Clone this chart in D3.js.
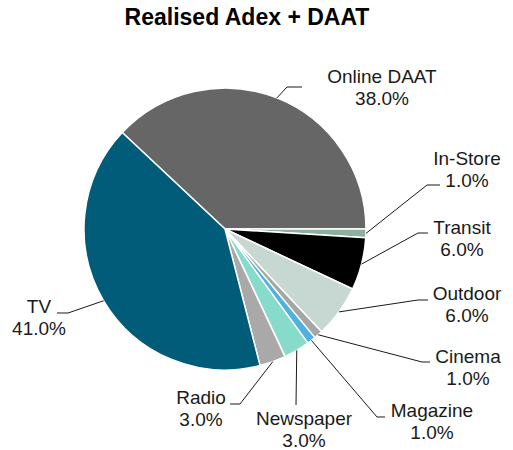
<!DOCTYPE html>
<html>
<head>
<meta charset="utf-8">
<script src="https://cdn.jsdelivr.net/npm/d3@7"></script>
<style>
  body { margin: 0; background: #fff; }
</style>
</head>
<body>
<script>
// data
var categories = ["Online DAAT", "In-Store", "Transit", "Outdoor", "Cinema", "Magazine", "Newspaper", "Radio", "TV"];
var shares = [38.0, 1.0, 6.0, 6.0, 1.0, 1.0, 3.0, 3.0, 41.0];
var colours = ["#666666", "#8eae9f", "#000000", "#c6d8d1", "#a6a6a6", "#4fb0e2", "#86dbcb", "#a9a9a9", "#005c78"];

// label placement: text centre x, first baseline y, elbow x/y, end x of leader
var labelLayout = [
  {tx: 382, ty: 83,  ex: 287, ey: 87,  hx: 302},
  {tx: 467, ty: 165, ex: 427, ey: 185, hx: 440},
  {tx: 462, ty: 234, ex: 418, ey: 233, hx: 428},
  {tx: 467, ty: 300, ex: 418, ey: 300, hx: 428},
  {tx: 468, ty: 363, ex: 422, ey: 362, hx: 430},
  {tx: 432, ty: 417, ex: 377, ey: 417, hx: 385},
  {tx: 304, ty: 425, ex: 296, ey: 405, hx: 296},
  {tx: 201, ty: 404, ex: 240, ey: 404, hx: 230},
  {tx: 39,  ty: 313, ex: 68,  ey: 313, hx: 57}
];

var width = 513, height = 450;
var cx = 225, cy = 229, radius = 141;
var font = "Arial, 'Liberation Sans', Helvetica, sans-serif";

var svg = d3.select("body").append("svg")
    .attr("width", width)
    .attr("height", height);

svg.append("text")
    .attr("x", 247)
    .attr("y", 25)
    .attr("text-anchor", "middle")
    .attr("font-family", font)
    .style("font-size", "23px")
    .style("font-weight", "bold")
    .attr("fill", "#000")
    .text("Realised Adex + DAAT");

var total = d3.sum(shares);
var start = Math.PI / 2 - shares[0] / total * 2 * Math.PI;

var pie = d3.pie()
    .sort(null)
    .value(function(d) { return d; })
    .startAngle(start)
    .endAngle(start + 2 * Math.PI);

var arcs = pie(shares);
var arc = d3.arc().innerRadius(0).outerRadius(radius);

var g = svg.append("g").attr("transform", "translate(" + cx + "," + cy + ")");

g.selectAll("path.slice")
    .data(arcs)
  .enter().append("path")
    .attr("class", "slice")
    .attr("d", arc)
    .attr("fill", function(d, i) { return colours[i]; })
    .attr("stroke", "#fff")
    .attr("stroke-width", 1.5)
    .attr("stroke-linejoin", "round");

// leader lines, start on the rim at the slice mid angle
arcs.forEach(function(d, i) {
  var a = (d.startAngle + d.endAngle) / 2;
  var sx = cx + radius * Math.sin(a);
  var sy = cy - radius * Math.cos(a);
  var L = labelLayout[i];
  svg.append("polyline")
      .attr("points", [[sx, sy], [L.ex, L.ey], [L.hx, L.ey]].map(function(p) { return p.join(","); }).join(" "))
      .attr("fill", "none")
      .attr("stroke", "#1a1a1a")
      .attr("stroke-width", 1);

  var t = svg.append("text")
      .attr("text-anchor", "middle")
      .attr("font-family", font)
      .attr("fill", "#1a1a1a")
      .style("font-size", "19px");
  t.append("tspan").attr("x", L.tx).attr("y", L.ty).text(categories[i]);
  t.append("tspan").attr("x", L.tx).attr("y", L.ty + 21.5).text(shares[i].toFixed(1) + "%");
});
</script>
</body>
</html>
